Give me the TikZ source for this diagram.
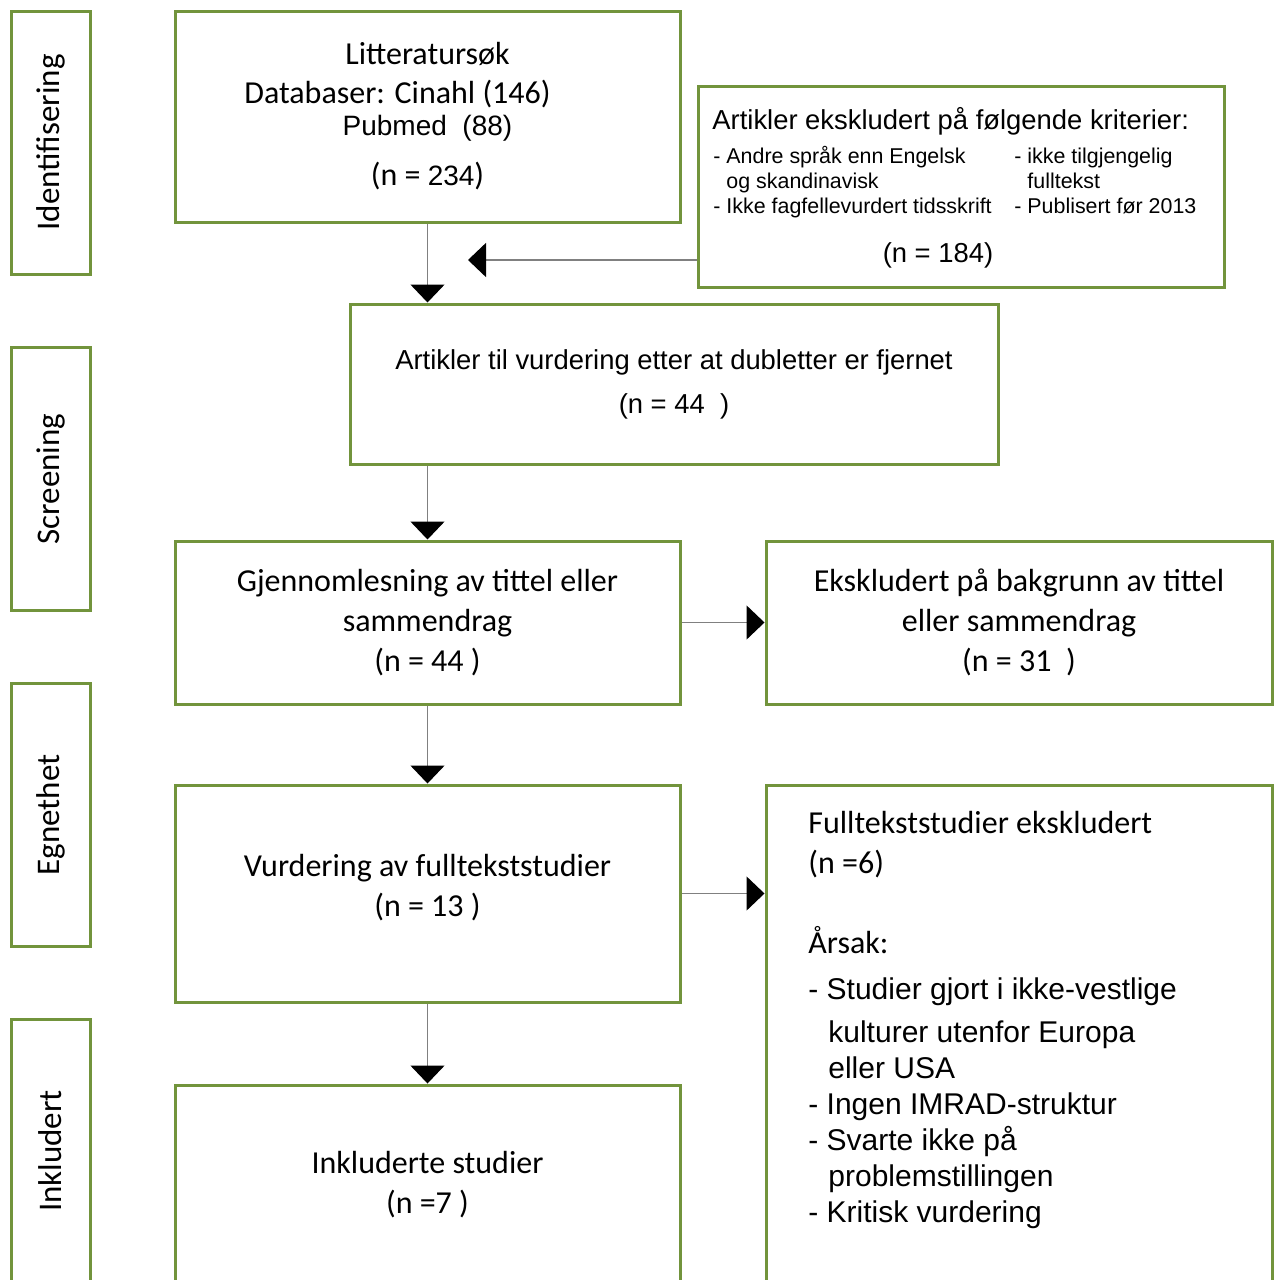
\documentclass[tikz,border=0pt]{standalone}
\usepackage{fontspec}
\setmainfont{Carlito}
\newfontfamily\arialfont{Liberation Sans}
\usetikzlibrary{arrows.meta,positioning,calc}
\definecolor{boxgreen}{RGB}{114,148,60}

\tikzset{
  box/.style={draw=boxgreen, line width=1.5pt, rectangle, inner sep=0pt, align=center,
    font=\fontsize{16}{20}\selectfont},
  phase/.style={box, rotate=90, minimum width=131.5pt, minimum height=39.5pt,
    font=\fontsize{16.5}{20}\selectfont},
  flow/.style={draw=gray, line width=0.75pt, -{Triangle[width=17pt,length=9pt,color=black]}},
  boxtext/.style={inner sep=0pt, align=left},
}

\begin{document}
\begin{tikzpicture}[x=0.5pt, y=-0.5pt]
  \path[use as bounding box, fill=white] (0,0) rectangle (1275,1280);
  \clip (0,0) rectangle (1275,1280);

  % phases on the left
  \node[phase] (idf) at (50.5,142.5) {Identifisering};
  \node[phase] (scr) at (50.5,479) {Screening};
  \node[phase] (egn) at (50.5,815) {Egnethet};
  \node[phase] (ink) at (50.5,1151) {Inkludert};

  % main column
  \node[box, minimum width=252.5pt, minimum height=105.5pt, font=\fontsize{16}{19.5}\selectfont] (lit) at (427.5,116.5)
    {Litteratursøk\\ Databaser: Cinahl (146)\hspace{30pt}\null\\[-3.5pt]
     {\arialfont\fontsize{14}{19.5}\selectfont Pubmed\ \ (88)}\\[5.5pt]
     (n = {\arialfont\fontsize{14}{19.5}\selectfont 234})};
  \node[box, minimum width=263pt, minimum height=100.5pt] (excl) at (961,186.5) {};
  \node[box, minimum width=324pt, minimum height=80pt, font=\arialfont\fontsize{13.7}{22}\selectfont] (screen) at (674,384)
    {Artikler til vurdering etter at dubletter er fjernet\\ (n = 44\ \ )};
  \node[box, minimum width=252.5pt, minimum height=81.5pt] (gjenn) at (427.5,622.5)
    {Gjennomlesning av tittel eller\\ sammendrag\\ (n = 44 )};
  \node[box, minimum width=253pt, minimum height=81.5pt, right=41.5pt of gjenn] (tittel)
    {Ekskludert på bakgrunn av tittel\\ eller sammendrag\\ (n = 31\ \ )};
  \node[box, minimum width=252.5pt, minimum height=108.5pt, below=39pt of gjenn] (full)
    {Vurdering av fulltekststudier\\ (n = 13 )\\[-12pt]\null};
  \node[box, minimum width=253pt, minimum height=249.5pt, right=41.5pt of full.north east, anchor=north west] (fullexcl) {};
  \node[box, minimum width=252.5pt, minimum height=99.5pt, below=40pt of full] (incl)
    {Inkluderte studier\\ (n =7 )};

  % texts of the exclusion boxes
  \node[boxtext, anchor=base west, font=\arialfont\fontsize{13.7}{16}\selectfont] (excltitle) at (712,129)
    {Artikler ekskludert på følgende kriterier:};
  \node[boxtext, anchor=north west, font=\arialfont\fontsize{10.7}{12.5}\selectfont] (excllist) at (713,146)
    {\begin{tabular}{@{}p{150.5pt}@{}l@{}}
       - Andre språk enn Engelsk & - ikke tilgjengelig\\
       \hphantom{- }og skandinavisk & \hphantom{- }fulltekst\\
       - Ikke fagfellevurdert tidsskrift & - Publisert før 2013
     \end{tabular}};
  \node[boxtext, anchor=base, font=\arialfont\fontsize{13.7}{16}\selectfont] (excln) at (938,262) {(n = 184)};

  \node[boxtext, anchor=north west, font=\fontsize{16}{18}\selectfont] (reasons) at (808,811)
    {Fulltekststudier ekskludert\\[2pt]
     (n =6)\\[22pt]
     Årsak:\\[5pt]
     {\arialfont\fontsize{15}{18}\selectfont - Studier gjort i ikke-vestlige}\\[3.5pt]
     {\arialfont\fontsize{15}{18}\selectfont \hspace*{10pt}kulturer utenfor Europa}\\
     {\arialfont\fontsize{15}{18}\selectfont \hspace*{10pt}eller USA}\\
     {\arialfont\fontsize{15}{18}\selectfont - Ingen IMRAD-struktur}\\
     {\arialfont\fontsize{15}{18}\selectfont - Svarte ikke på}\\
     {\arialfont\fontsize{15}{18}\selectfont \hspace*{10pt}problemstillingen}\\
     {\arialfont\fontsize{15}{18}\selectfont - Kritisk vurdering}};

  % connectors
  \coordinate (excltip) at (468,260);
  \draw[flow] (lit.south) -- (lit.south |- screen.north);
  \draw[flow] (excl.west |- excltip) -- (excltip);
  \draw[flow] (gjenn.north |- screen.south) -- (gjenn.north);
  \draw[flow] (gjenn.east) -- (tittel.west);
  \draw[flow] (gjenn.south) -- (full.north);
  \draw[flow] (full.east) -- (full.east -| fullexcl.west);
  \draw[flow] (full.south) -- (incl.north);
\end{tikzpicture}
\end{document}
